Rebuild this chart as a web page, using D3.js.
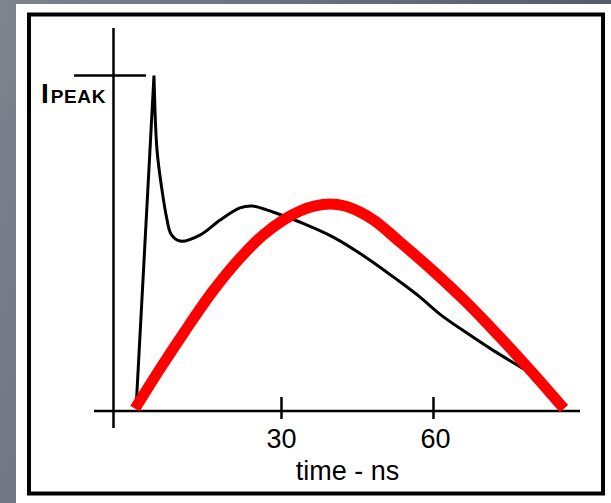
<!DOCTYPE html>
<html>
<head>
<meta charset="utf-8">
<script src="https://cdn.jsdelivr.net/npm/d3@7"></script>
<style>
  html, body { margin: 0; padding: 0; background: #6b707c; }
  svg { display: block; }
  text { font-family: "Liberation Sans", Arial, Helvetica, sans-serif; fill: #000; }
</style>
</head>
<body>
<div id="chart"></div>
<script>
// time (ns) / current (fraction of Ipeak)
var blackT = [1.4, 4.93, 5.53, 6.51, 7.4, 8.3, 10.1, 14.0, 18.0, 21.9, 24.3, 28.4, 33.7, 40.3, 47.0, 53.5, 57.4, 61.4, 66.7, 71.8, 77.9];
var blackV = [0.006, 1.0, 0.777, 0.658, 0.577, 0.526, 0.505, 0.523, 0.568, 0.604, 0.610, 0.592, 0.562, 0.517, 0.454, 0.383, 0.338, 0.286, 0.230, 0.179, 0.123];

var redT = [1.18, 6.12, 11.05, 16.58, 21.91, 26.45, 30.79, 33.75, 36.71, 39.67, 42.63, 45.59, 48.55, 53.49, 60.0, 66.32, 72.63, 79.14, 85.85];
var redV = [0.004, 0.123, 0.236, 0.356, 0.454, 0.523, 0.571, 0.595, 0.610, 0.616, 0.610, 0.592, 0.565, 0.502, 0.416, 0.326, 0.227, 0.120, 0.004];

var tickValues = [30, 60];
var xLabel = "time - ns";
var peakLabel = ["I", "PEAK"];

var W = 611, H = 503;

var svg = d3.select("#chart").append("svg")
  .attr("width", W).attr("height", H);

var defs = svg.append("defs");
var grad = defs.append("linearGradient").attr("id", "bg")
  .attr("x1", 0).attr("y1", 0).attr("x2", 1).attr("y2", 0.3);
grad.append("stop").attr("offset", "0%").attr("stop-color", "#7e838e");
grad.append("stop").attr("offset", "100%").attr("stop-color", "#515868");

svg.append("rect").attr("width", W).attr("height", H).attr("fill", "url(#bg)");
svg.append("rect").attr("x", 16).attr("y", 4).attr("width", W - 16).attr("height", H - 4).attr("fill", "#fff");
svg.append("rect").attr("x", 29).attr("y", 14.5).attr("width", 574).attr("height", 479)
  .attr("fill", "none").attr("stroke", "#000").attr("stroke-width", 4);

var x = d3.scaleLinear().domain([0, 60]).range([129, 433]);
var y = d3.scaleLinear().domain([0, 1]).range([410, 75.5]);

// axes
svg.append("line").attr("x1", 113.5).attr("x2", 113.5).attr("y1", 28).attr("y2", 428)
  .attr("stroke", "#000").attr("stroke-width", 2.5);
svg.append("line").attr("x1", 94).attr("x2", 580).attr("y1", 411).attr("y2", 411)
  .attr("stroke", "#000").attr("stroke-width", 2.5);

var gx = svg.append("g").attr("transform", "translate(0,411)")
  .call(d3.axisBottom(x).tickValues(tickValues).tickSize(8).tickPadding(0));
gx.select(".domain").remove();
gx.selectAll(".tick line").attr("y1", -14).attr("y2", 8)
  .attr("stroke", "#000").attr("stroke-width", 2.5);
gx.selectAll(".tick text")
  .attr("y", 37).attr("dy", 0)
  .style("font-family", "'Liberation Sans', Arial, sans-serif")
  .style("font-size", "27px").attr("fill", "#000");
gx.selectAll(".tick").filter(function(d){ return d === 60; }).select("text").attr("x", 2);

svg.append("text").attr("x", 347.5).attr("y", 480)
  .attr("text-anchor", "middle").style("font-size", "27px").text(xLabel);

// Ipeak marker
svg.append("line").attr("x1", 74).attr("x2", 146).attr("y1", y(1)).attr("y2", y(1))
  .attr("stroke", "#000").attr("stroke-width", 2.5);
var pk = svg.append("text").attr("x", 41).attr("y", 102.5).style("font-weight", "bold");
pk.append("tspan").style("font-size", "28px").text(peakLabel[0]);
pk.append("tspan").attr("dx", 2).style("font-size", "19px").style("letter-spacing", "0.6px").text(peakLabel[1]);

// black measured pulse: straight rise to the peak, smooth tail after it
var tail = d3.line().curve(d3.curveCatmullRom.alpha(0.5))
  .x(function(i){ return x(blackT[i]); })
  .y(function(i){ return y(blackV[i]); });
var idx = d3.range(1, blackT.length);
var dBlack = "M" + x(blackT[0]) + "," + y(blackV[0]) + tail(idx).replace(/^M/, "L");
svg.append("path").attr("d", dBlack)
  .attr("fill", "none").attr("stroke", "#000").attr("stroke-width", 3)
  .attr("stroke-linejoin", "miter").attr("stroke-miterlimit", 20);

// red model pulse
var redLine = d3.line().curve(d3.curveCatmullRom.alpha(0.5))
  .x(function(i){ return x(redT[i]); })
  .y(function(i){ return y(redV[i]); });
svg.append("path").attr("d", redLine(d3.range(redT.length)))
  .attr("fill", "none").attr("stroke", "#ff0000").attr("stroke-width", 11)
  .attr("stroke-linecap", "butt");
</script>
</body>
</html>
